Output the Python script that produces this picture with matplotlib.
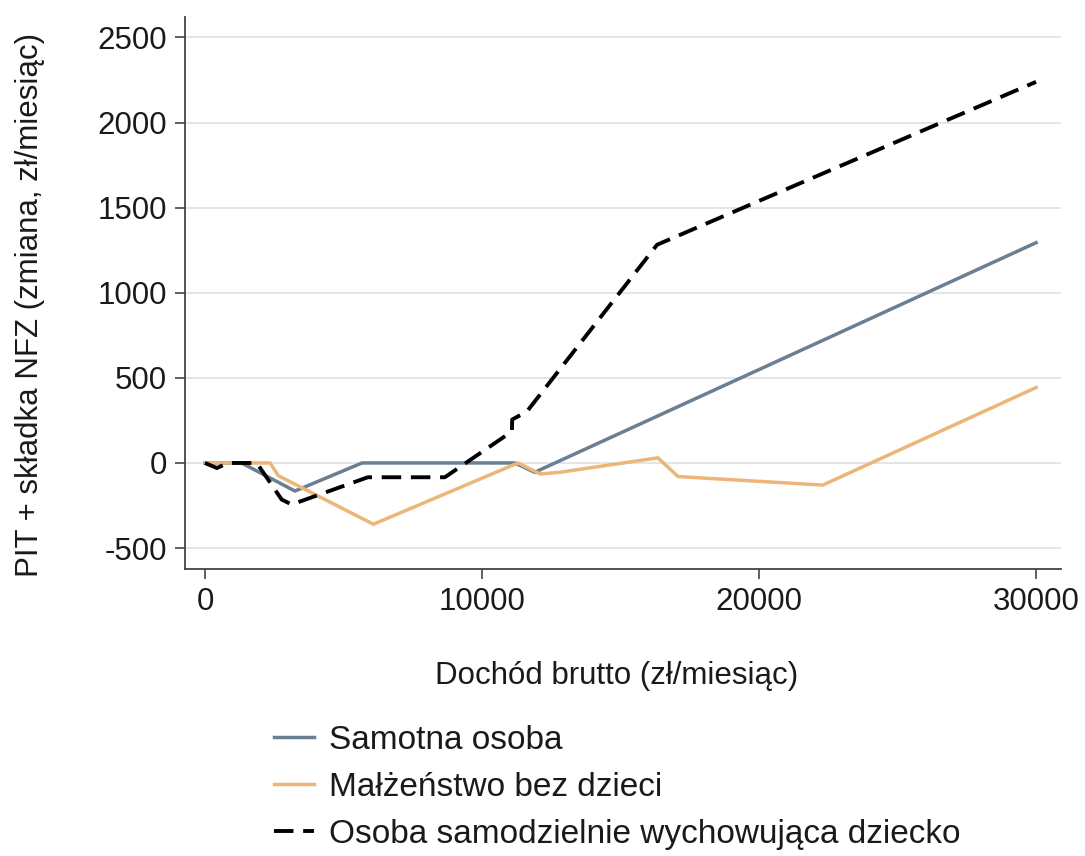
import matplotlib
matplotlib.use("Agg")
import matplotlib.pyplot as plt

plt.rcParams['font.family'] = ['Liberation Sans', 'DejaVu Sans']

# Samotna osoba
x_single = [0, 1320, 3250, 5670, 11190, 11900, 30000]
y_single = [0, 0, -165, 0, 0, -55, 1294]

# Małżeństwo bez dzieci
x_married = [0, 2350, 2650, 6080, 11300, 12100, 12800, 16350, 17080, 22300, 30000]
y_married = [0, 0, -75, -360, 0, -65, -55, 30, -80, -130, 443]

# Osoba samodzielnie wychowująca dziecko
x_parent = [0, 430, 830, 1870, 2770, 3130, 5880, 8660, 11080, 11090, 11620, 16320, 30000]
y_parent = [0, -30, 0, 0, -215, -244, -84, -84, 185, 255, 302, 1282, 2239]

labels = ["Samotna osoba", "Małżeństwo bez dzieci", "Osoba samodzielnie wychowująca dziecko"]
x_ticks = [0, 10000, 20000, 30000]
y_ticks = [-500, 0, 500, 1000, 1500, 2000, 2500]

W, H = 1085, 856
fig = plt.figure(figsize=(W / 100, H / 100), dpi=100)
ax = fig.add_axes([185 / W, 1 - 569 / H, (1061 - 185) / W, (569 - 17) / H])

ax.plot(x_single, y_single, color='#6b7f93', lw=2.5, label=labels[0], solid_joinstyle='miter')
ax.plot(x_married, y_married, color='#ebb677', lw=2.5, label=labels[1], solid_joinstyle='miter')
ax.plot(x_parent, y_parent, color='black', lw=2.8, ls=(0, (5, 2.5)), label=labels[2])

ax.set_xlim(-720, 30900)
ax.set_ylim(-623, 2620)
ax.set_xticks(x_ticks)
ax.set_yticks(y_ticks)
ax.set_xticklabels([str(v) for v in x_ticks])
ax.set_yticklabels([str(v) for v in y_ticks])

ax.grid(axis='y', color='#e3e3e3', lw=1.3)
ax.set_axisbelow(True)
for s in ['top', 'right']:
    ax.spines[s].set_visible(False)
for s in ['left', 'bottom']:
    ax.spines[s].set_color('#444444')
    ax.spines[s].set_linewidth(1.3)
ax.tick_params(axis='both', direction='out', length=7, width=1.2, color='#444444',
               labelsize=22.5, labelcolor='#1a1a1a', pad=6)

fig.text(30 / W, 1 - 305 / H, "PIT + składka NFZ (zmiana, zł/miesiąc)", rotation=90,
         ha='center', va='center', fontsize=22.5, color='#1a1a1a')
fig.text(617 / W, 1 - 676 / H, "Dochód brutto (zł/miesiąc)", ha='center', va='center',
         fontsize=22.5, color='#1a1a1a')

leg = fig.legend(loc='upper left', bbox_to_anchor=(274 / W, 1 - 725 / H), frameon=False,
                 borderpad=0, borderaxespad=0, fontsize=24, handlelength=1.2,
                 handletextpad=0.45, labelspacing=0.48)
for t in leg.get_texts():
    t.set_color('#1a1a1a')

fig.savefig("out.png", dpi=100)
